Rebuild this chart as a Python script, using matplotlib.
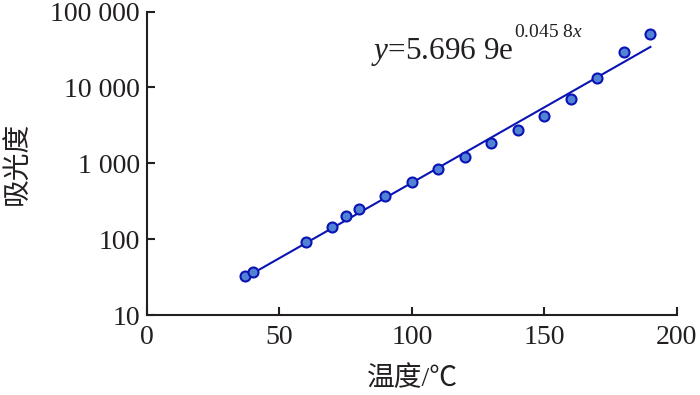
import numpy as np
import matplotlib
matplotlib.use("Agg")
import matplotlib.pyplot as plt
from matplotlib.ticker import FuncFormatter, FixedLocator, NullLocator

plt.rcParams['font.family'] = ['Liberation Serif', 'Noto Sans CJK SC', 'DejaVu Sans']
plt.rcParams['mathtext.fontset'] = 'custom'
plt.rcParams['mathtext.rm'] = 'Liberation Serif'
plt.rcParams['mathtext.it'] = 'Liberation Serif:italic'

# 温度 (°C) 与 吸光度
temperature = [37, 40, 60, 70, 75, 80, 90, 100, 110, 120, 130, 140, 150, 160, 170, 180, 190]
absorbance = [32.4, 37, 92.5, 143, 201, 253, 367, 561, 847, 1230, 1837, 2780,
              4240, 7015, 13200, 29600, 50900]

# 拟合: y = 5.6969 e^(0.0458 x)
fit_a = 5.6969
fit_b = 0.0458
fit_range = [38, 190]

y_ticks = [10, 100, 1000, 10000, 100000]
x_ticks = [0, 50, 100, 150, 200]

axis_color = '#231f20'
line_color = '#0a14b4'
fill_color = '#5282d4'

fig = plt.figure(figsize=(7, 3.95), dpi=100)
ax = fig.add_axes([0.21, 0.2025, 0.757, 0.768])

xf = np.linspace(fit_range[0], fit_range[1], 100)
ax.plot(xf, fit_a * np.exp(fit_b * xf), color=line_color, lw=1.5, zorder=2)
ax.plot(temperature, absorbance, 'o', ms=7.2, mfc=fill_color, mec=line_color,
        mew=1.5, zorder=3)

ax.set_yscale('log')
ax.set_xlim(0, 200)
ax.set_ylim(10, 100000)
ax.yaxis.set_major_locator(FixedLocator(y_ticks))
ax.yaxis.set_minor_locator(NullLocator())
ax.yaxis.set_major_formatter(FuncFormatter(lambda v, p: f'{int(round(v)):,}'.replace(',', ' ')))
ax.set_xticks(x_ticks)

for s in ['top', 'right']:
    ax.spines[s].set_visible(False)
for s in ['left', 'bottom']:
    ax.spines[s].set_color(axis_color)
    ax.spines[s].set_linewidth(1.5)

ax.tick_params(axis='both', direction='in', length=6, width=1.5, colors=axis_color,
               labelsize=20, pad=5)
ax.tick_params(axis='x', pad=7)

ax.set_xlabel('温度/℃', fontsize=20, color=axis_color, labelpad=12)
ax.set_ylabel('吸光度', fontsize=20, color=axis_color, labelpad=14)

ax.text(84.7, 10 ** 4.379, '$y$=5.696 9e', fontsize=22.5, color=axis_color,
        va='baseline', ha='left')
ax.text(138.5, 10 ** 4.672, '0.045 8$x$', fontsize=14, color=axis_color,
        va='baseline', ha='left')

fig.savefig('out.png', dpi=100)
